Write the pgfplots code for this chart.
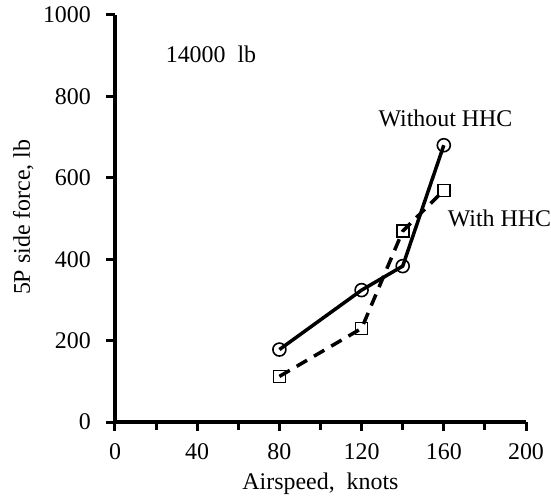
\documentclass[border=0pt]{standalone}
\usepackage{pgfplots}
\pgfplotsset{compat=1.18}
\usepackage{fontspec}
\setmainfont{Liberation Serif}
\begin{document}
\fontsize{24}{28}\selectfont
\begin{tikzpicture}
\useasboundingbox (-115bp,-81bp) rectangle (436bp,422bp);
\begin{axis}[
  scale only axis, width=411bp, height=407bp,
  xmin=0, xmax=200, ymin=0, ymax=1000,
  axis lines*=left,
  xtick={0,40,...,200}, ytick={0,200,...,1000},
  minor xtick={20,60,...,180},
  tick align=outside,
  major tick length=9bp, minor tick length=8bp,
  tick style={line width=3bp, black},
  axis line style={line width=3.5bp},
  /pgf/number format/assume math mode=true,
  /pgf/number format/1000 sep={},
  tick label style={font=\fontsize{24}{28}\selectfont},
  xticklabel style={yshift=-4bp},
  yticklabel style={xshift=-7bp},
  xlabel={Airspeed,\ \ knots}, ylabel={5P side force,\ lb},
  xlabel style={at={(axis description cs:0.5,-0.152)}, anchor=center},
  ylabel style={at={(axis description cs:-0.223,0.503)}, anchor=center},
  clip=false,
]
\addplot[line width=3.5bp, mark=o, mark size=6.5bp, mark options={solid, line width=1.6bp}]
  coordinates {(80,178) (120,324) (140,383) (160,680)};
\addplot[line width=3.5bp, dash pattern=on 12bp off 8bp, mark=square, mark size=6bp, mark options={solid, line width=1.6bp, fill=white}]
  coordinates {(80,112) (120,230) (140,469) (160,569)};
\node at (axis cs:46.7,903) {14000\ \ lb};
\node at (axis cs:160.8,746) {Without HHC};
\node at (axis cs:187.1,500) {With HHC};
\end{axis}
\end{tikzpicture}
\end{document}
